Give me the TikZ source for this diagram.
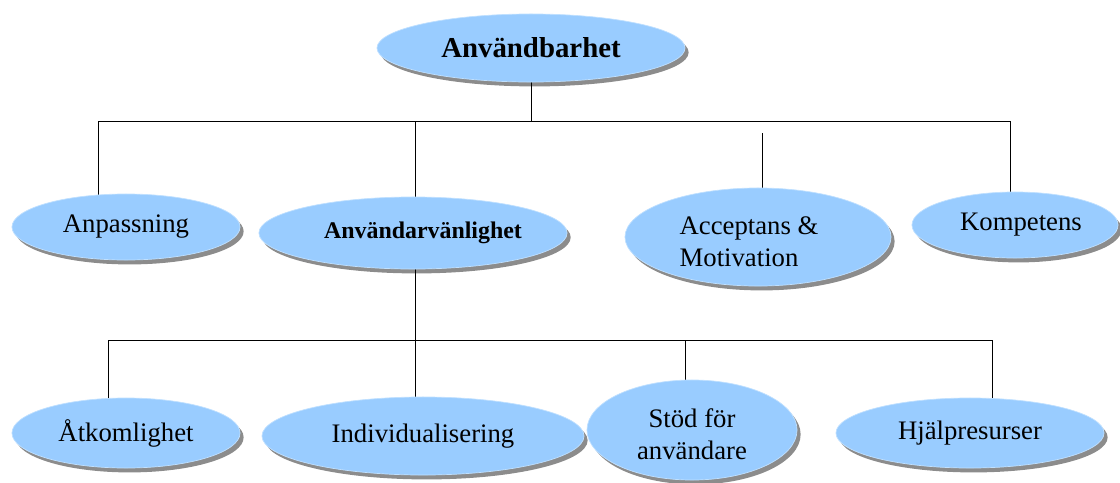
\documentclass[tikz,border=0pt]{standalone}
\usepackage{fontspec}
\setmainfont{Liberation Serif}
\usepackage{tikz}
\usetikzlibrary{shapes.geometric,shadows,backgrounds}
\definecolor{bubble}{HTML}{99CCFF}
\definecolor{rim}{HTML}{BFE0FF}

\begin{document}
\begin{tikzpicture}[
      x=0.025cm, y=-0.025cm,
      bubble/.style={ellipse, fill=bubble, draw=rim, line width=0.5pt, inner sep=0pt,
                     drop shadow={shadow xshift=0.09cm, shadow yshift=-0.11cm,
                                  fill=black, opacity=0.45},
                     font=\fontsize{19}{22}\selectfont},
      bold/.style={font=\fontsize{17}{20}\selectfont\bfseries},
      caption/.style={font=\fontsize{19}{22.5}\selectfont, inner sep=0pt}
    ]
      \useasboundingbox (0,0) rectangle (1120,482);

      % Row 0: root
      \node[bubble, minimum width=7.7cm, minimum height=1.7cm,
            font=\fontsize{20.5}{24}\selectfont\bfseries] (root) at (531,48) {Användbarhet};

      % Row 1
      \node[bubble, minimum width=5.7cm, minimum height=1.65cm] (anpassning) at (126,227) {Anpassning};
      \node[bubble, bold, minimum width=7.55cm, minimum height=1.8cm] (vanlighet) at (413,233)
            {\hspace*{0.5cm}Användarvänlighet};
      \node[bubble, minimum width=6.65cm, minimum height=2.45cm] (acceptans) at (758,237) {};
      \node[caption, align=left] (acceptansText) at (749,242) {Acceptans \&\\Motivation};
      \node[bubble, minimum width=5.15cm, minimum height=1.65cm] (kompetens) at (1015,225)
            {\hspace*{0.3cm}Kompetens};

      % Row 2
      \node[bubble, minimum width=5.7cm, minimum height=1.75cm] (atkomlighet) at (126,433) {Åtkomlighet};
      \node[bubble, minimum width=8.05cm, minimum height=1.95cm] (individ) at (423,436) {Individualisering};
      \node[bubble, minimum width=5.25cm, minimum height=2.5cm] (stod) at (692,430) {};
      \node[caption, align=center] (stodText) at (692,434) {Stöd för\\användare};
      \node[bubble, minimum width=6.7cm, minimum height=1.75cm] (hjalp) at (970,433) {Hjälpresurser};

      % Bus points
      \coordinate (busL) at (98,121);
      \coordinate (busR) at (1010,121);
      \coordinate (busV) at (415,121);
      \coordinate (accTop) at (762,133);
      \coordinate (subL) at (108,340);
      \coordinate (subS) at (685,340);
      \coordinate (subR) at (992,340);

      % Connectors
      \begin{scope}[on background layer, line width=0.9pt]
        \draw (root) -- (root |- busL);
        \draw (busL) -- (busR);
        \draw (busL) -- (busL |- anpassning.center);
        \draw (busV) -- (busV |- individ.center);
        \draw (accTop) -- (accTop |- acceptans.center);
        \draw (busR) -- (busR |- kompetens.center);
        \draw (subL) -- (subR);
        \draw (subL) -- (subL |- atkomlighet.center);
        \draw (subS) -- (subS |- stod.center);
        \draw (subR) -- (subR |- hjalp.center);
      \end{scope}
    \end{tikzpicture}
\end{document}
